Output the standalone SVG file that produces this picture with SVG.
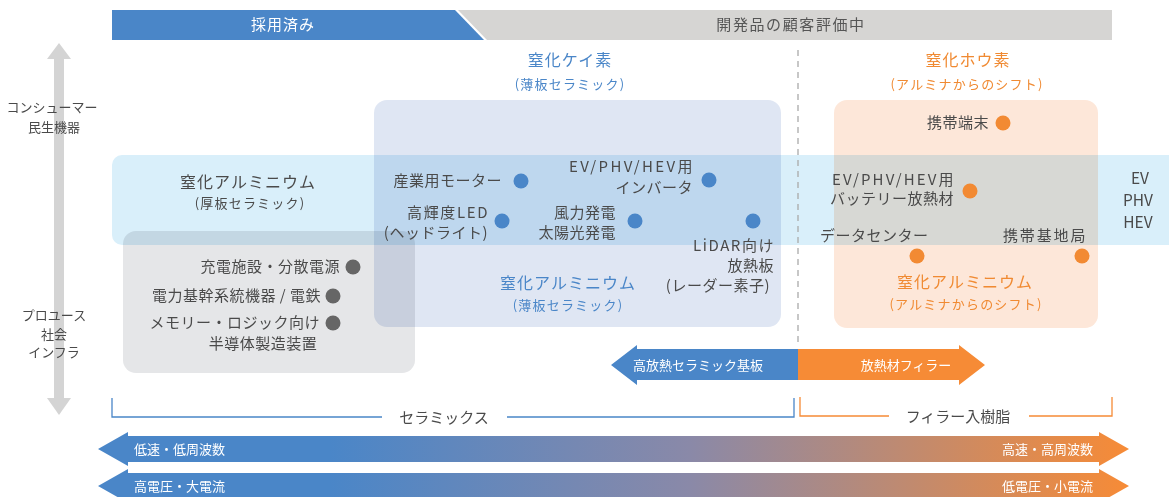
<svg xmlns="http://www.w3.org/2000/svg" width="1169" height="497" viewBox="0 0 1169 497">
<defs>
<linearGradient id="grad" gradientUnits="userSpaceOnUse" x1="330" y1="0" x2="1130" y2="0">
<stop offset="0" stop-color="#4a86c8"/>
<stop offset="0.45" stop-color="#8a89a8"/>
<stop offset="1" stop-color="#f78b36"/>
</linearGradient>
<style>
text{font-family:"Noto Sans CJK JP","Noto Sans",sans-serif;}
.lbl{font-size:15px;fill:#4a4a4a;letter-spacing:0.5px;}
.ax{font-size:13px;fill:#4a4a4a;text-anchor:middle;}
.hb{font-size:16px;fill:#4a86c8;text-anchor:middle;letter-spacing:1px;}
.ho{font-size:16px;fill:#f08a32;text-anchor:middle;letter-spacing:1px;}
.sb{font-size:13px;fill:#4a86c8;text-anchor:middle;letter-spacing:1.2px;}
.so{font-size:13px;fill:#f08a32;text-anchor:middle;letter-spacing:1.2px;}
.wt{font-size:13px;fill:#ffffff;}
.mb{mix-blend-mode:multiply;}
.db{fill:#4a86c8;}
.do{fill:#f28a33;}
.dg{fill:#666666;}
</style>
</defs>
<rect x="0" y="0" width="1169" height="497" fill="#ffffff"/>

<g id="banner">
<polygon points="112,10 455,10 484,40 112,40" fill="#4a86c8"/>
<polygon points="458,10 1112,10 1112,40 487,40" fill="#d6d5d3"/>
<text x="283" y="30" style="font-size:15px;fill:#fff;text-anchor:middle;letter-spacing:1px">採用済み</text>
<text x="791" y="30" style="font-size:15px;fill:#555;text-anchor:middle;letter-spacing:1.6px">開発品の顧客評価中</text>
</g>

<g id="axis">
<rect x="54" y="58" width="10" height="341" fill="#d4d4d4"/>
<polygon points="59,43 71,59 47,59" fill="#d4d4d4"/>
<polygon points="59,415 71,398 47,398" fill="#d4d4d4"/>
<text class="ax" x="52" y="112">コンシューマー</text>
<text class="ax" x="54" y="132">民生機器</text>
<text class="ax" x="54" y="320">プロユース</text>
<text class="ax" x="54" y="339">社会</text>
<text class="ax" x="54" y="357">インフラ</text>
</g>

<g id="regions">
<rect class="mb" x="374" y="100" width="407" height="227" rx="13" fill="#dfe6f3"/>
<rect class="mb" x="834" y="100" width="264" height="228" rx="13" fill="#fde7d9"/>
<rect class="mb" x="112" y="155" width="1080" height="90" rx="10" fill="#d9effa"/>
<rect class="mb" x="123" y="231" width="292" height="142" rx="13" fill="#e5e6e8"/>
</g>

<g id="divider">
<line x1="798" y1="50" x2="798" y2="346" stroke="#aaaaaa" stroke-width="1.3" stroke-dasharray="6,5"/>
</g>

<g id="headings">
<text class="hb" x="570" y="66">窒化ケイ素</text>
<text class="sb" x="570" y="89">(薄板セラミック)</text>
<text class="ho" x="968" y="66">窒化ホウ素</text>
<text class="so" x="967" y="89">(アルミナからのシフト)</text>
<text x="248" y="188" style="font-size:16px;fill:#4a4a4a;text-anchor:middle;letter-spacing:1px">窒化アルミニウム</text>
<text x="250" y="208" style="font-size:13px;fill:#4a4a4a;text-anchor:middle;letter-spacing:1.2px">(厚板セラミック)</text>
<text class="hb" x="568" y="289">窒化アルミニウム</text>
<text class="sb" x="568" y="310">(薄板セラミック)</text>
<text class="ho" x="965" y="288">窒化アルミニウム</text>
<text class="so" x="966" y="309">(アルミナからのシフト)</text>
<text x="1140" y="184" style="font-size:15.5px;fill:#4a4a4a;text-anchor:middle">EV</text>
<text x="1138" y="206" style="font-size:15.5px;fill:#4a4a4a;text-anchor:middle">PHV</text>
<text x="1138" y="228" style="font-size:15.5px;fill:#4a4a4a;text-anchor:middle">HEV</text>
</g>

<g id="node-motor">
<circle class="db" cx="521" cy="181" r="7.5"/>
<text class="lbl" x="502" y="186" text-anchor="end">産業用モーター</text>
</g>
<g id="node-inverter">
<circle class="db" cx="709" cy="180" r="7.5"/>
<text class="lbl" x="569" y="172" textLength="124" lengthAdjust="spacing">EV/PHV/HEV用</text>
<text class="lbl" x="693" y="193" text-anchor="end">インバータ</text>
</g>
<g id="node-led">
<circle class="db" cx="502" cy="221" r="7.5"/>
<text class="lbl" x="407" y="218" textLength="81" lengthAdjust="spacing">高輝度LED</text>
<text class="lbl" x="488" y="238" text-anchor="end">(ヘッドライト)</text>
</g>
<g id="node-wind">
<circle class="db" cx="635" cy="221" r="7.5"/>
<text class="lbl" x="616" y="218" text-anchor="end">風力発電</text>
<text class="lbl" x="616" y="238" text-anchor="end">太陽光発電</text>
</g>
<g id="node-lidar">
<circle class="db" cx="753" cy="221" r="7.5"/>
<text class="lbl" x="693" y="251" textLength="81" lengthAdjust="spacing">LiDAR向け</text>
<text class="lbl" x="774" y="270.5" text-anchor="end">放熱板</text>
<text class="lbl" x="770" y="291" text-anchor="end">(レーダー素子)</text>
</g>

<g id="node-charge">
<circle class="dg" cx="353" cy="267" r="7.5"/>
<text class="lbl" x="340" y="272" text-anchor="end">充電施設・分散電源</text>
</g>
<g id="node-power">
<circle class="dg" cx="333" cy="296" r="7.5"/>
<text class="lbl" x="321" y="301" text-anchor="end">電力基幹系統機器 / 電鉄</text>
</g>
<g id="node-semi">
<circle class="dg" cx="333" cy="323" r="7.5"/>
<text class="lbl" x="320" y="328" text-anchor="end">メモリー・ロジック向け</text>
<text class="lbl" x="263" y="349" text-anchor="middle">半導体製造装置</text>
</g>

<g id="node-mobile">
<circle class="do" cx="1003" cy="123" r="7.5"/>
<text class="lbl" x="989" y="128" text-anchor="end">携帯端末</text>
</g>
<g id="node-battery">
<circle class="do" cx="970" cy="191" r="7.5"/>
<text class="lbl" x="832" y="185" textLength="122" lengthAdjust="spacing">EV/PHV/HEV用</text>
<text class="lbl" x="954" y="204" text-anchor="end">バッテリー放熱材</text>
</g>
<g id="node-dc">
<circle class="do" cx="917" cy="256" r="7.5"/>
<text class="lbl" x="820" y="241">データセンター</text>
</g>
<g id="node-base">
<circle class="do" cx="1082" cy="256" r="7.5"/>
<text class="lbl" x="1003" y="241" textLength="83" lengthAdjust="spacing">携帯基地局</text>
</g>

<g id="connectors">
<polygon points="798,349 637,349 637,345 611,365 637,385 637,380 798,380" fill="#4a86c8"/>
<polygon points="798,349 959,349 959,345 985,365 959,385 959,380 798,380" fill="#f68b36"/>
<text class="wt" x="698" y="370" text-anchor="middle">高放熱セラミック基板</text>
<text class="wt" x="906" y="370" text-anchor="middle">放熱材フィラー</text>

<polyline points="112,398 112,417 382,417" fill="none" stroke="#4a86c8" stroke-width="1.3"/>
<polyline points="507,417 794,417 794,398" fill="none" stroke="#4a86c8" stroke-width="1.3"/>
<text x="444" y="423" style="font-size:15px;fill:#4a4a4a;text-anchor:middle">セラミックス</text>
<polyline points="800,397 800,416 889,416" fill="none" stroke="#f68b36" stroke-width="1.3"/>
<polyline points="1029,416 1112,416 1112,397" fill="none" stroke="#f68b36" stroke-width="1.3"/>
<text x="958" y="422" style="font-size:15px;fill:#4a4a4a;text-anchor:middle">フィラー入樹脂</text>

<polygon points="128,432 128,436 1099,436 1099,432 1129,449 1099,466 1099,462 128,462 128,466 98,449" fill="url(#grad)"/>
<text class="wt" x="134" y="454">低速・低周波数</text>
<text class="wt" x="1093" y="454" text-anchor="end">高速・高周波数</text>
<polygon points="128,469 128,473 1099,473 1099,469 1129,486 1099,503 1099,499 128,499 128,503 98,486" fill="url(#grad)"/>
<text class="wt" x="134" y="491">高電圧・大電流</text>
<text class="wt" x="1093" y="491" text-anchor="end">低電圧・小電流</text>
</g>
</svg>
